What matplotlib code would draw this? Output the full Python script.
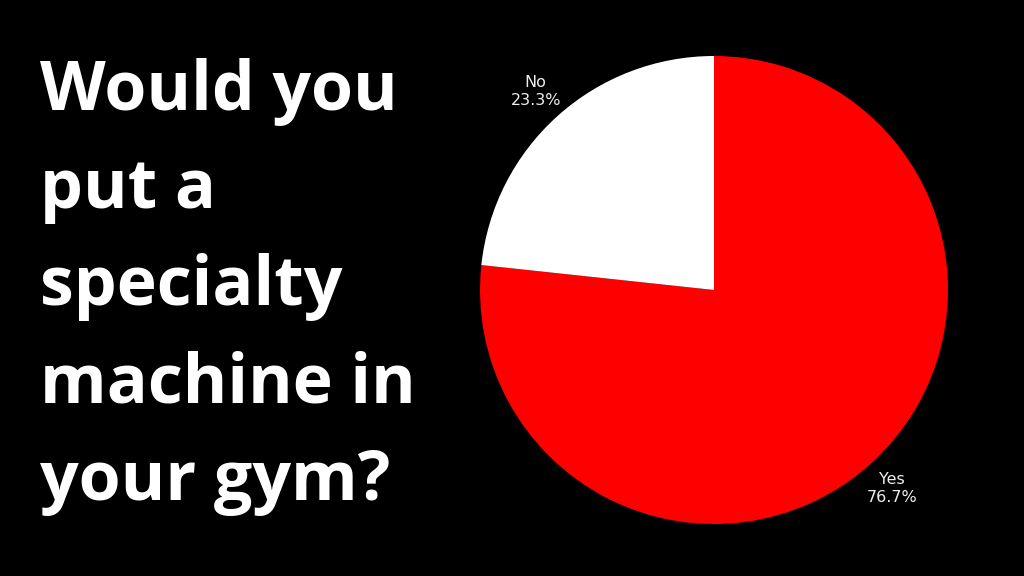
import matplotlib.pyplot as plt

# survey answers
answers = ['Yes', 'No']
shares = [76.7, 23.3]
slice_colors = ['#ff0000', '#ffffff']
title_lines = ['Would you', 'put a', 'specialty', 'machine in', 'your gym?']

fig = plt.figure(figsize=(10.24, 5.76), dpi=100, facecolor='black')

# big question text on the left, one line at a time
for i, line in enumerate(title_lines):
    fig.text(40 / 1024, 1 - (110 + 97.5 * i) / 576, line, color='white',
             fontsize=49, fontweight='bold', family='Open Sans',
             ha='left', va='baseline')

# pie on the right
ax = fig.add_axes([(714 - 234) / 1024, (576 - 290 - 234) / 576, 468 / 1024, 468 / 576])
ax.set_facecolor('black')
labels = [f'{a}\n{s:.1f}%' for a, s in zip(answers, shares)]
ax.pie(shares, labels=labels, colors=slice_colors, startangle=90, counterclock=False,
       labeldistance=1.14, textprops={'color': '#eeeeee', 'fontsize': 11.5, 'ha': 'center',
                                      'linespacing': 1.3})
ax.set_xlim(-1, 1)
ax.set_ylim(-1, 1)
ax.set_aspect('equal')

fig.savefig('out.png', dpi=100, facecolor='black')
